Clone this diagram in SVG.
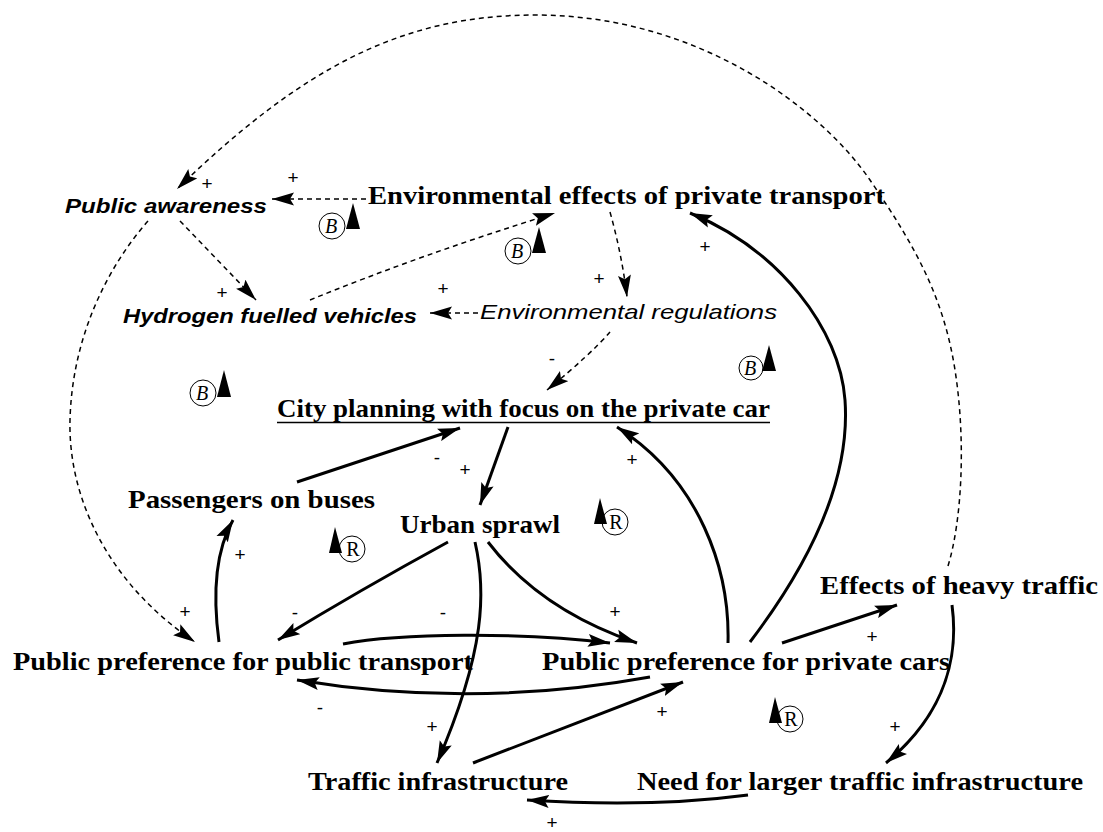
<svg xmlns="http://www.w3.org/2000/svg" width="1103" height="832" viewBox="0 0 1103 832">
<style>
.serif{font-family:"Liberation Serif","Times New Roman",serif;font-weight:bold;font-size:26px;fill:#000}
.isans{font-family:"Liberation Sans",Arial,sans-serif;font-style:italic;font-weight:bold;font-size:21px;fill:#000}
.isansn{font-family:"Liberation Sans",Arial,sans-serif;font-style:italic;font-size:21px;fill:#000}
.sign{font-family:"Liberation Sans",Arial,sans-serif;font-size:19px;fill:#000;text-anchor:middle}
.solid{fill:none;stroke:#000;stroke-width:3;marker-end:url(#ah)}
.dash{fill:none;stroke:#000;stroke-width:1.5;stroke-dasharray:5 4;marker-end:url(#ah)}
.loopc{fill:none;stroke:#000;stroke-width:1}
.loopt{fill:#000}
.loopB{font-family:"Liberation Serif","Times New Roman",serif;font-style:italic;font-size:20px;fill:#000;text-anchor:middle}
.loopR{font-family:"Liberation Serif","Times New Roman",serif;font-size:20px;fill:#000;text-anchor:middle}
</style>
<defs>
<marker id="ah" markerUnits="userSpaceOnUse" markerWidth="24" markerHeight="14" refX="22" refY="7" orient="auto">
<path d="M0,0.5 L22,7 L0,13.5 L4,7 z" fill="#000"/>
</marker>
</defs>
<rect width="1103" height="832" fill="#fff"/>

<g id="connectors">
<path class="dash" d="M948,566 C962,520 966,440 955,370 S918,250 870,180 C822,110 700,15 535,15 C400,15 300,70 177,189"/>
<path class="dash" d="M366,199 L272,199"/>
<path class="dash" d="M180,221 L256,300"/>
<path class="dash" d="M148,221 C105,270 72,340 70,420 C68,500 110,585 195,642"/>
<path class="dash" d="M310,300 Q420,255 555,213"/>
<path class="dash" d="M610,212 Q622,255 627,297"/>
<path class="dash" d="M478,313 L430,313"/>
<path class="dash" d="M610,332 Q590,355 547,390"/>
<path class="solid" d="M297,482 L460,428"/>
<path class="solid" d="M508,427 L480,505"/>
<path class="solid" d="M448,542 Q360,590 278,640"/>
<path class="solid" d="M475,542 C486,590 486,650 437,763"/>
<path class="solid" d="M488,542 Q540,610 637,643"/>
<path class="solid" d="M343,644 C400,633 520,632 610,643"/>
<path class="solid" d="M650,677 Q473,709 297,680"/>
<path class="solid" d="M473,763 L683,682"/>
<path class="solid" d="M748,795 Q650,808 527,800"/>
<path class="solid" d="M952,605 C958,650 950,710 886,763"/>
<path class="solid" d="M782,643 L897,605"/>
<path class="solid" d="M750,642 C820,550 850,470 845,400 C840,330 780,250 690,213"/>
<path class="solid" d="M728,643 C730,570 700,480 617,427"/>
<path class="solid" d="M219,642 C212,590 216,550 233,520"/>
</g>

<g id="n-public-awareness"><text class="isans" x="65" y="213" textLength="202" lengthAdjust="spacingAndGlyphs">Public awareness</text></g>
<g id="n-env-effects"><text class="serif" x="368" y="204" textLength="517" lengthAdjust="spacingAndGlyphs">Environmental effects of private transport</text></g>
<g id="n-hydrogen"><text class="isans" x="123" y="323" textLength="294" lengthAdjust="spacingAndGlyphs">Hydrogen fuelled vehicles</text></g>
<g id="n-env-regulations"><text class="isansn" x="480" y="319" textLength="297" lengthAdjust="spacingAndGlyphs">Environmental regulations</text></g>
<g id="n-city-planning"><text class="serif" x="277" y="417" textLength="493" lengthAdjust="spacingAndGlyphs">City planning with focus on the private car</text><line x1="277" y1="422.5" x2="770" y2="422.5" stroke="#000" stroke-width="1.5"/></g>
<g id="n-passengers"><text class="serif" x="128" y="508" textLength="247" lengthAdjust="spacingAndGlyphs">Passengers on buses</text></g>
<g id="n-urban-sprawl"><text class="serif" x="400" y="533" textLength="160" lengthAdjust="spacingAndGlyphs">Urban sprawl</text></g>
<g id="n-heavy-traffic"><text class="serif" x="820" y="594" textLength="278" lengthAdjust="spacingAndGlyphs">Effects of heavy traffic</text></g>
<g id="n-pref-public"><text class="serif" x="13" y="670" textLength="460" lengthAdjust="spacingAndGlyphs">Public preference for public transport</text></g>
<g id="n-pref-private"><text class="serif" x="542" y="670" textLength="408" lengthAdjust="spacingAndGlyphs">Public preference for private cars</text></g>
<g id="n-traffic-infra"><text class="serif" x="308" y="790" textLength="260" lengthAdjust="spacingAndGlyphs">Traffic infrastructure</text></g>
<g id="n-need-infra"><text class="serif" x="637" y="790" textLength="446" lengthAdjust="spacingAndGlyphs">Need for larger traffic infrastructure</text></g>

<g id="polarities">
<text class="sign" x="207" y="190">+</text>
<text class="sign" x="293" y="184">+</text>
<text class="sign" x="222" y="299">+</text>
<text class="sign" x="443" y="295">+</text>
<text class="sign" x="599" y="285">+</text>
<text class="sign" x="705" y="253">+</text>
<text class="sign" x="552" y="365">-</text>
<text class="sign" x="437" y="464">-</text>
<text class="sign" x="465" y="476">+</text>
<text class="sign" x="632" y="466">+</text>
<text class="sign" x="240" y="561">+</text>
<text class="sign" x="185" y="618">+</text>
<text class="sign" x="295" y="619">-</text>
<text class="sign" x="443" y="619">-</text>
<text class="sign" x="615" y="618">+</text>
<text class="sign" x="872" y="643">+</text>
<text class="sign" x="320" y="714">-</text>
<text class="sign" x="432" y="733">+</text>
<text class="sign" x="662" y="718">+</text>
<text class="sign" x="895" y="733">+</text>
<text class="sign" x="552" y="829">+</text>
</g>

<g id="loops">
<g id="loop-b1"><circle class="loopc" cx="332" cy="226" r="13"/><text class="loopB" x="331" y="233">B</text><polygon class="loopt" points="353,203 346,229 360,229"/></g>
<g id="loop-b2"><circle class="loopc" cx="518" cy="251" r="13"/><text class="loopB" x="517" y="258">B</text><polygon class="loopt" points="539,227 532,253 546,253"/></g>
<g id="loop-b3"><circle class="loopc" cx="203" cy="393" r="13"/><text class="loopB" x="202" y="400">B</text><polygon class="loopt" points="224,370 217,397 231,397"/></g>
<g id="loop-b4"><circle class="loopc" cx="751" cy="368" r="12"/><text class="loopB" x="750" y="375">B</text><polygon class="loopt" points="769,345 762,371 776,371"/></g>
<g id="loop-r1"><circle class="loopc" cx="352" cy="549" r="13"/><text class="loopR" x="353" y="556">R</text><polygon class="loopt" points="335,527 329,553 342,553"/></g>
<g id="loop-r2"><circle class="loopc" cx="615" cy="522" r="13"/><text class="loopR" x="616" y="529">R</text><polygon class="loopt" points="600,498 594,524 607,524"/></g>
<g id="loop-r3"><circle class="loopc" cx="790" cy="719" r="13"/><text class="loopR" x="791" y="726">R</text><polygon class="loopt" points="775,697 769,723 782,723"/></g>
</g>
</svg>
